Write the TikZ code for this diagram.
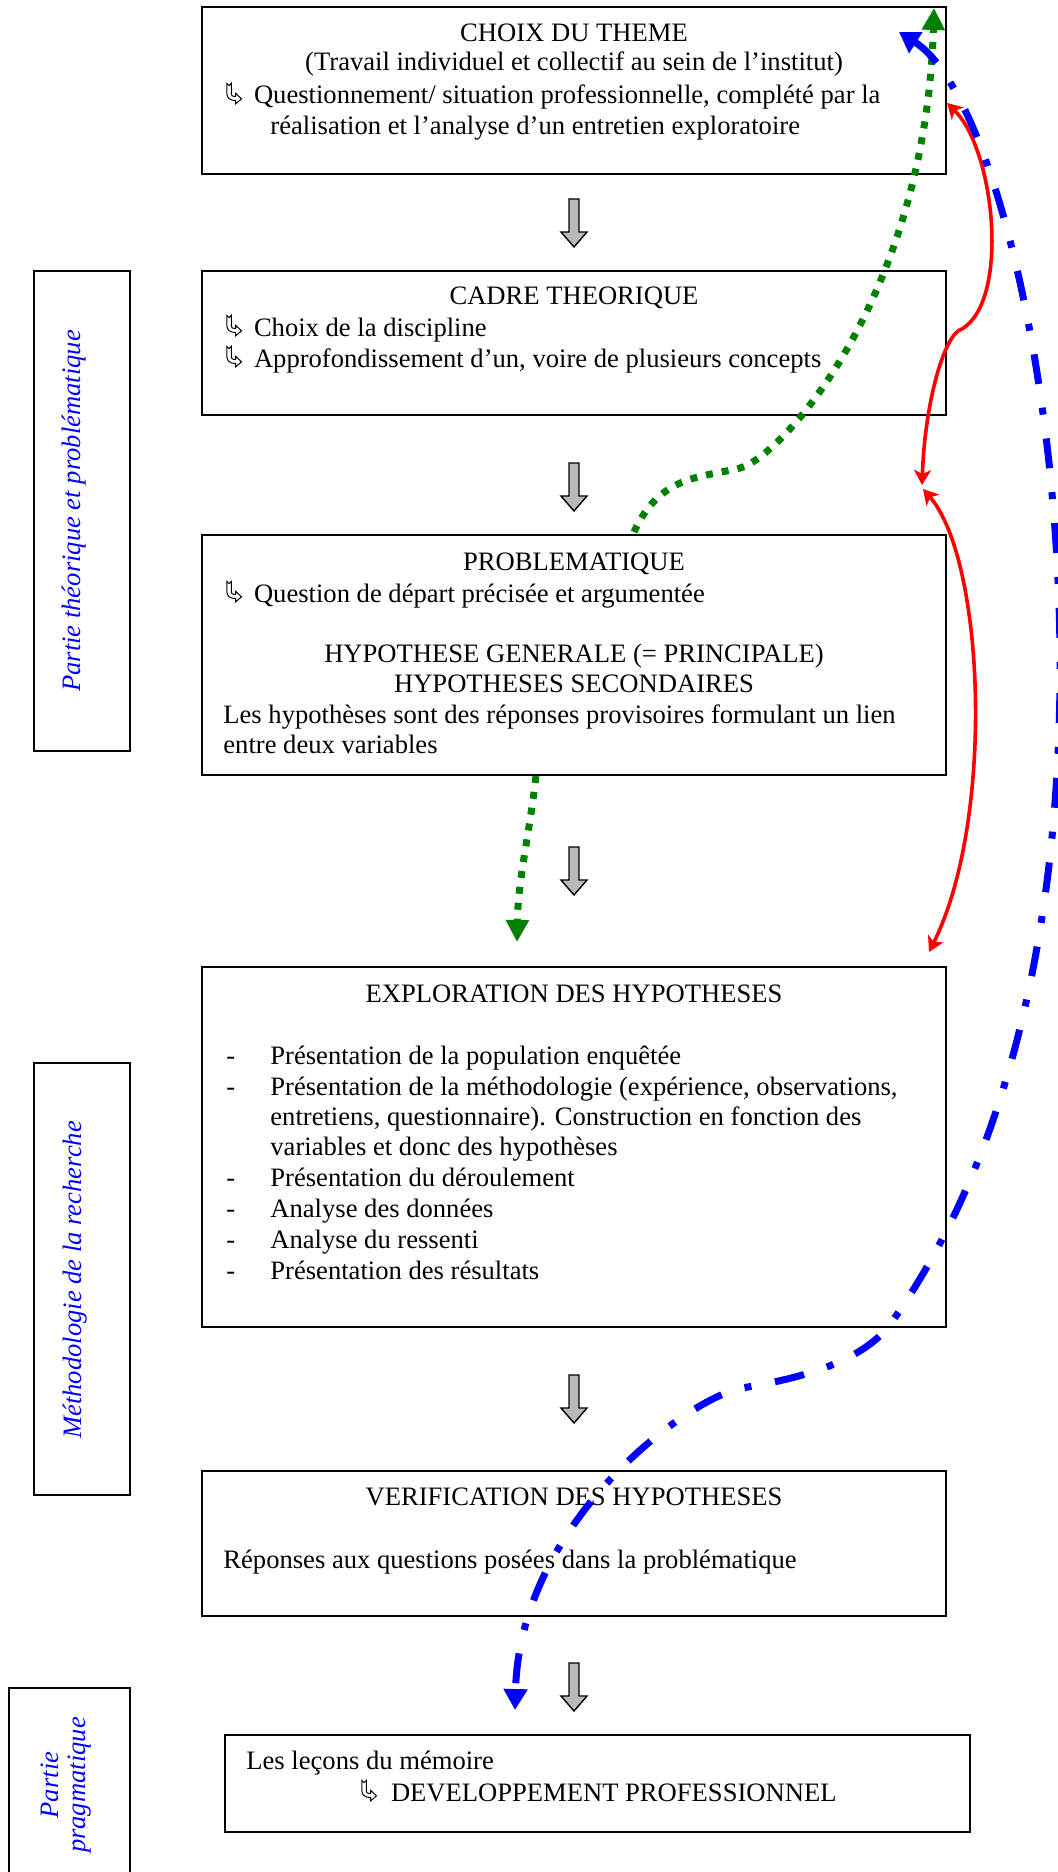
\documentclass[tikz,border=0pt]{standalone}
\usepackage{fontspec}
\setmainfont{Liberation Serif}
\usetikzlibrary{arrows.meta}
\definecolor{dgreen}{RGB}{0,128,0}
\definecolor{pblue}{RGB}{0,0,255}
\definecolor{pred}{RGB}{255,0,0}
\newcommand\wingarrow{\tikz[baseline=0pt,x=1pt,y=1pt]\draw[line width=0.5pt,line join=miter] (0.2,10.3) -- (1.3,9.2) -- (2.4,10.3) -- (2.4,5.0) .. controls (2.4,4.2) and (3,3.8) .. (3.8,3.8) -- (4.6,3.8) -- (4.6,5.3) -- (7.5,2.6) -- (4.6,0.1) -- (4.6,1.8) -- (3.8,1.8) .. controls (1.8,1.8) and (0.2,3.2) .. (0.2,5.0) -- cycle;}
\begin{document}
\begin{tikzpicture}[x=0.5pt,y=-0.5pt,
  mainbox/.style={draw, line width=1pt, inner sep=0pt},
  txt/.style={inner sep=0pt, font=\fontsize{13.3}{16}\selectfont},
  ctxt/.style={txt, anchor=base},
  ltxt/.style={txt, anchor=base west},
  lbl/.style={inner sep=0pt, text=pblue, font=\fontsize{13.3}{13.3}\itshape\selectfont},
  pics/blockarrow/.style={code={\draw[fill=gray!55, line width=0.7pt, line join=miter] (-5,0) -- (5,0) -- (5,33) -- (13,33) -- (0,48) -- (-13,33) -- (-5,33) -- cycle;}},
  greenline/.style={draw=dgreen, line width=3.5pt, dash pattern=on 3.5pt off 4.5pt, -{Triangle[length=11pt,width=11pt]}},
  redline/.style={draw=pred, line width=1.8pt, {Stealth[length=7.5pt,width=8.5pt,inset=2pt]}-{Stealth[length=7.5pt,width=8.5pt,inset=2pt]}},
  blueline/.style={draw=pblue, line width=3.5pt, dash pattern=on 15pt off 12pt on 3.5pt off 12pt, {Triangle[length=10pt,width=12pt]}-{Triangle[length=10.5pt,width=11.5pt]}}
]
\useasboundingbox (0,0) rectangle (1058,1872);

% main boxes
\node[mainbox, minimum width=372pt, minimum height=83.5pt] (b1) at (574,90.5) {};
\node[mainbox, minimum width=372pt, minimum height=72pt] (b2) at (574,343) {};
\node[mainbox, minimum width=372pt, minimum height=120pt] (b3) at (574,655) {};
\node[mainbox, minimum width=372pt, minimum height=180pt] (b4) at (574,1147) {};
\node[mainbox, minimum width=372pt, minimum height=72.5pt] (b5) at (574,1543.5) {};
\node[mainbox, minimum width=372.6pt, minimum height=48.5pt] (b6) at (597.4,1783.5) {};

% side boxes
\node[mainbox, minimum width=48pt, minimum height=240pt] (s1) at (81.6,511) {};
\node[mainbox, minimum width=48pt, minimum height=216pt] (s2) at (81.6,1279) {};
\node[mainbox, minimum width=60.1pt, minimum height=101pt] (s3) at (69.5,1789) {};

% side labels
\node[lbl, rotate=90] (l1) at (74,511) {Partie théorique et problématique};
\node[lbl, rotate=90] (l2) at (75,1280) {Méthodologie de la recherche};
\node[lbl, rotate=90, align=center] (l3) at (66,1785) {Partie\\pragmatique};

% box 1
\node[ctxt] (t1a) at (574,42) {CHOIX DU THEME};
\node[ctxt] (t1b) at (574,71) {(Travail individuel et collectif au sein de l’institut)};
\node[ltxt] (t1c) at (226,104) {\wingarrow\hspace{6pt}Questionnement/ situation professionnelle, complété par la};
\node[ltxt] (t1d) at (270,135) {réalisation et l’analyse d’un entretien exploratoire};

% box 2
\node[ctxt] (t2a) at (574,305) {CADRE THEORIQUE};
\node[ltxt] (t2b) at (226,336) {\wingarrow\hspace{6pt}Choix de la discipline};
\node[ltxt] (t2c) at (226,367) {\wingarrow\hspace{6pt}Approfondissement d’un, voire de plusieurs concepts};

% box 3
\node[ctxt] (t3a) at (574,570) {PROBLEMATIQUE};
\node[ltxt] (t3b) at (226,602) {\wingarrow\hspace{6pt}Question de départ précisée et argumentée};
\node[ctxt] (t3c) at (574,662) {HYPOTHESE GENERALE (= PRINCIPALE)};
\node[ctxt] (t3d) at (574,692) {HYPOTHESES SECONDAIRES};
\node[ltxt] (t3e) at (223,723) {Les hypothèses sont des réponses provisoires formulant un lien};
\node[ltxt] (t3f) at (223,753) {entre deux variables};

% box 4
\node[ctxt] (t4a) at (574,1002) {EXPLORATION DES HYPOTHESES};
\node[ltxt] (t4b) at (226,1064) {\makebox[22pt][l]{-}Présentation de la population enquêtée};
\node[ltxt] (t4c) at (226,1095) {\makebox[22pt][l]{-}Présentation de la méthodologie (expérience, observations,};
\node[ltxt] (t4d) at (270,1125) {entretiens, questionnaire). Construction en fonction des};
\node[ltxt] (t4e) at (270,1155) {variables et donc des hypothèses};
\node[ltxt] (t4f) at (226,1186) {\makebox[22pt][l]{-}Présentation du déroulement};
\node[ltxt] (t4g) at (226,1217) {\makebox[22pt][l]{-}Analyse des données};
\node[ltxt] (t4h) at (226,1248) {\makebox[22pt][l]{-}Analyse du ressenti};
\node[ltxt] (t4i) at (226,1279) {\makebox[22pt][l]{-}Présentation des résultats};

% box 5
\node[ctxt] (t5a) at (574,1505) {VERIFICATION DES HYPOTHESES};
\node[ltxt] (t5b) at (223,1568) {Réponses aux questions posées dans la problématique};

% box 6
\node[ltxt] (t6a) at (246,1769) {Les leçons du mémoire};
\node[ltxt] (t6b) at (361,1801) {\wingarrow\hspace{7pt}DEVELOPPEMENT PROFESSIONNEL};

% grey block arrows
\pic at (574,199) {blockarrow};
\pic at (574,463) {blockarrow};
\pic at (574,847) {blockarrow};
\pic at (574,1375) {blockarrow};
\pic at (574,1663) {blockarrow};

% named end points of connectors
\coordinate (g1s) at (634,532);
\coordinate (g1m) at (740,468);
\coordinate (g1e) at (934,8);
\coordinate (g2s) at (536,776);
\coordinate (g2e) at (517,942);
\coordinate (r1s) at (947,103);
\coordinate (r1m) at (962,329);
\coordinate (r1e) at (922,485);
\coordinate (r2s) at (923,489);
\coordinate (r2e) at (929,952);
\coordinate (bs) at (899,32);
\coordinate (bm1) at (1060,680);
\coordinate (bm2) at (891,1323);
\coordinate (bm3) at (742,1388);
\coordinate (be) at (515,1710);

% green dotted
\draw[greenline] (g1s) .. controls (660,475) and (700,478) .. (g1m) .. controls (780,458) and (925,300) .. (g1e);
\draw[greenline] (g2s) .. controls (530,830) and (518,880) .. (g2e);

% red
\draw[redline] (r1s) .. controls (995,150) and (1010,300) .. (r1m) .. controls (945,333) and (925,400) .. (r1e);
\draw[redline] (r2s) .. controls (985,560) and (995,820) .. (r2e);

% blue dash-dot
\draw[blueline] (bs) .. controls (990,90) and (1062,380) .. (bm1) .. controls (1058,950) and (1000,1170) .. (bm2) .. controls (861,1365) and (790,1380) .. (bm3) .. controls (690,1397) and (520,1520) .. (be);
\end{tikzpicture}
\end{document}
